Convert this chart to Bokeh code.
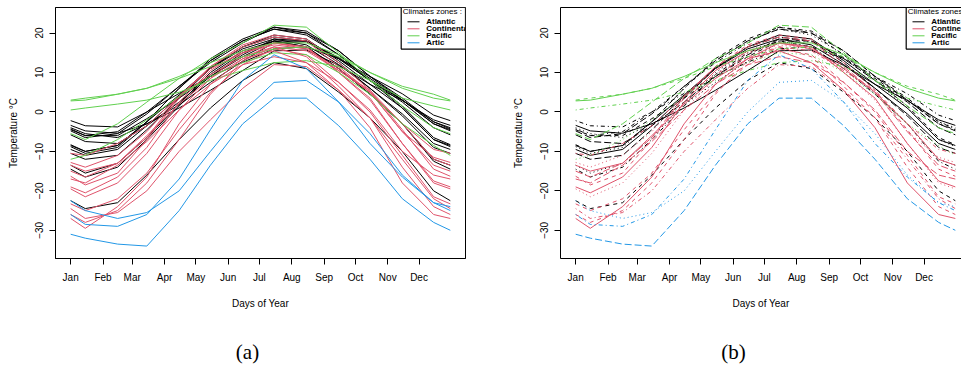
from bokeh.plotting import figure
from bokeh.layouts import row, column
from bokeh.models import FixedTicker, LinearAxis, Range1d
from bokeh.core.properties import value
from bokeh.embed import file_html
from bokeh.resources import INLINE

# ---------------- data ----------------
days = [1, 15, 46, 74, 105, 135, 166, 196, 227, 258, 288, 319, 349, 365]
month_days = [1, 32, 60, 91, 121, 152, 182, 213, 244, 274, 305, 335]
month_labels = ["Jan", "Feb", "Mar", "Apr", "May", "Jun",
                "Jul", "Aug", "Sep", "Oct", "Nov", "Dec"]
temp_ticks = [-30, -20, -10, 0, 10, 20]
captions = ["(a)", "(b)"]

# Atlantic
st_johns      = [-3.4, -4.8, -5.4, -3.0, 1.0, 5.5, 10.5, 15.5, 15.7, 11.8, 7.0, 2.9, -2.0, -3.4]
halifax       = [-4.5, -6.0, -6.0, -1.7, 3.5, 9.0, 14.0, 18.0, 18.0, 13.8, 8.5, 3.0, -3.0, -4.5]
sydney        = [-4.0, -5.5, -6.5, -3.0, 1.8, 7.5, 12.9, 17.6, 17.8, 13.5, 8.0, 3.0, -2.5, -4.0]
yarmouth      = [-2.2, -3.5, -3.8, 0.0, 4.7, 9.0, 12.6, 16.0, 16.5, 13.5, 9.0, 4.6, -0.8, -2.2]
charlottetown = [-5.8, -7.5, -8.0, -3.5, 2.5, 9.0, 14.5, 18.5, 18.0, 13.5, 8.0, 2.5, -4.0, -5.8]
fredericton   = [-8.5, -10.0, -8.5, -2.5, 4.3, 11.2, 16.5, 19.5, 18.5, 13.0, 7.0, 1.0, -7.0, -8.5]
schefferville = [-22.5, -24.5, -23.0, -16.0, -7.0, 1.0, 8.0, 12.5, 11.0, 5.0, -1.5, -10.0, -20.0, -22.5]
arvida        = [-13.5, -15.5, -13.0, -6.5, 2.0, 10.0, 15.5, 18.0, 16.5, 11.0, 4.5, -3.0, -12.0, -13.5]
bagotville    = [-14.5, -16.5, -14.0, -7.0, 1.5, 9.5, 15.0, 18.0, 16.5, 11.0, 4.5, -3.0, -12.5, -14.5]
quebec        = [-10.5, -12.0, -11.0, -4.5, 3.5, 11.0, 16.5, 19.0, 18.0, 12.5, 6.0, -1.0, -9.0, -10.5]
sherbrooke    = [-9.5, -11.0, -9.5, -3.5, 4.0, 11.0, 16.0, 18.5, 17.0, 12.0, 6.0, -0.5, -8.0, -9.5]
montreal      = [-8.3, -10.0, -8.5, -2.5, 6.0, 13.5, 18.5, 21.5, 20.0, 14.5, 8.0, 1.5, -6.5, -8.3]
ottawa        = [-8.8, -10.5, -9.0, -2.5, 6.0, 13.0, 18.0, 21.0, 19.5, 14.5, 8.0, 1.0, -7.0, -8.8]
toronto       = [-4.3, -6.0, -5.0, 0.0, 6.5, 12.5, 17.5, 21.5, 20.5, 15.5, 9.0, 3.5, -2.5, -4.3]
london        = [-4.8, -6.5, -5.5, -0.5, 6.5, 13.0, 18.0, 21.0, 20.0, 15.5, 9.0, 3.0, -3.0, -4.8]
# Continental
thunder_bay   = [-13.5, -15.0, -13.0, -6.0, 2.0, 8.5, 13.5, 17.5, 16.0, 11.0, 5.0, -3.0, -12.0, -13.5]
winnipeg      = [-16.3, -18.5, -15.5, -7.0, 3.5, 11.5, 17.0, 19.5, 18.5, 12.5, 5.5, -4.5, -14.5, -16.3]
the_pas       = [-19.5, -21.5, -18.0, -10.5, 0.5, 8.5, 15.0, 17.5, 16.5, 10.0, 3.0, -8.0, -18.0, -19.5]
churchill     = [-24.5, -27.0, -25.5, -20.0, -10.0, -2.0, 6.0, 12.0, 11.5, 5.5, -1.5, -12.0, -22.0, -24.5]
regina        = [-15.0, -16.5, -13.0, -6.5, 4.0, 11.5, 16.5, 19.0, 18.0, 11.5, 5.0, -5.0, -13.5, -15.0]
pr_albert     = [-19.0, -20.5, -16.5, -9.0, 2.5, 10.5, 15.5, 17.5, 16.5, 10.0, 3.5, -8.0, -17.5, -19.0]
uranium_city  = [-23.3, -25.0, -22.0, -15.5, -4.5, 5.0, 12.0, 16.0, 14.5, 7.5, 0.0, -11.0, -21.5, -23.3]
edmonton      = [-12.8, -14.0, -11.0, -5.0, 4.0, 11.0, 15.0, 17.0, 16.0, 10.5, 5.0, -5.0, -11.5, -12.8]
calgary       = [-10.5, -11.0, -8.0, -3.5, 4.0, 9.5, 14.0, 16.5, 15.5, 10.5, 5.5, -3.0, -9.5, -10.5]
# Pacific
kamloops      = [-5.5, -7.0, -3.0, 2.5, 8.5, 13.5, 17.5, 22.0, 21.5, 15.0, 8.0, 1.5, -4.0, -5.5]
vancouver     = [2.8, 3.0, 4.5, 6.0, 9.0, 12.5, 15.5, 17.5, 17.5, 14.5, 10.0, 6.0, 3.5, 2.8]
victoria      = [3.0, 3.5, 4.5, 6.0, 8.5, 11.5, 14.0, 16.0, 16.5, 14.0, 10.0, 6.5, 4.5, 3.0]
pr_george     = [-12.0, -11.0, -7.0, -2.0, 4.0, 9.0, 12.5, 15.0, 14.5, 10.0, 4.5, -3.0, -8.5, -11.0]
pr_rupert     = [0.5, 1.0, 2.0, 3.0, 5.0, 8.0, 10.5, 12.5, 13.0, 11.5, 8.0, 3.5, 1.5, 0.5]
# Continental (north)
whitehorse    = [-17.0, -18.0, -13.5, -7.5, 0.5, 7.0, 12.0, 14.0, 12.5, 7.5, 0.5, -10.0, -16.0, -17.0]
dawson        = [-27.0, -29.5, -24.0, -16.5, -3.0, 7.0, 13.5, 15.5, 12.5, 5.5, -4.0, -18.0, -26.0, -27.0]
yellowknife   = [-26.0, -28.0, -25.0, -18.0, -7.0, 4.5, 13.0, 16.5, 14.0, 6.5, -1.5, -14.0, -24.0, -26.0]
# Arctic
iqaluit       = [-22.5, -25.0, -27.0, -25.5, -20.0, -10.0, 0.0, 7.5, 8.0, 2.5, -5.5, -16.0, -23.0, -24.0]
inuvik        = [-26.0, -28.5, -29.0, -26.0, -17.0, -4.5, 8.0, 14.5, 11.0, 2.5, -8.0, -16.5, -23.0, -25.0]
resolute      = [-31.0, -32.0, -33.5, -34.0, -25.0, -13.5, -3.0, 3.5, 3.5, -3.5, -12.0, -22.0, -28.0, -30.0]

stations = [st_johns, halifax, sydney, yarmouth, charlottetown, fredericton,
            schefferville, arvida, bagotville, quebec, sherbrooke, montreal,
            ottawa, toronto, london, thunder_bay, winnipeg, the_pas, churchill,
            regina, pr_albert, uranium_city, edmonton, calgary, kamloops,
            vancouver, victoria, pr_george, pr_rupert, whitehorse, dawson,
            yellowknife, iqaluit, inuvik, resolute]
station_zone = (["Atlantic"] * 15 + ["Continental"] * 9 + ["Pacific"] * 5
                + ["Continental"] * 3 + ["Artic"] * 3)

zone_names = ["Atlantic", "Continental", "Pacific", "Artic"]
zone_colors = {"Atlantic": "#000000", "Continental": "#DF536B",
               "Pacific": "#61D04F", "Artic": "#2297E6"}
lty_cycle = ["solid", "4 4", "1 3", "1 3 4 3", "7 3"]

# ---------------- styling helpers ----------------
FONT = "Liberation Sans"
X0, X1 = -13.56, 379.56
Y0, Y1 = -37.15, 26.48
FRAME_W, FRAME_H = 410, 251
PLOT_H = 330          # chart rows; a caption strip fills the rest
CAP_H = 367 - PLOT_H


def style_axes(p):
    p.xgrid.visible = False
    p.ygrid.visible = False
    p.background_fill_color = "white"
    p.border_fill_color = "white"
    xa = p.xaxis[0]
    xa.ticker = FixedTicker(ticks=month_days)
    xa.major_label_overrides = {d: m for d, m in zip(month_days, month_labels)}
    ya = p.yaxis[0]
    ya.ticker = FixedTicker(ticks=temp_ticks)
    ya.major_label_orientation = "vertical"
    for ax in (xa, ya):
        ax.axis_line_color = "black"
        ax.major_tick_line_color = "black"
        ax.major_tick_in = 0
        ax.major_tick_out = 6
        ax.minor_tick_in = 0
        ax.minor_tick_out = 0
        ax.major_label_text_font = FONT
        ax.major_label_text_font_size = "10px"
        ax.major_label_text_color = "black"
        ax.axis_label_text_font = FONT
        ax.axis_label_text_font_size = "10px"
        ax.axis_label_text_font_style = "normal"
        ax.axis_label_text_color = "black"
    xa.axis_label = "Days of Year"
    xa.major_label_standoff = 7
    xa.axis_label_standoff = 12
    ya.axis_label = "Temperature \u00b0C"
    ya.major_label_standoff = 6
    ya.axis_label_standoff = 14


def draw_legend(p):
    dx = (X1 - X0) / FRAME_W   # data units per pixel
    dy = (Y1 - Y0) / FRAME_H
    left = X1 - 64.3 * dx
    p.quad(left=left, right=X1, top=Y1, bottom=Y1 - 41.6 * dy,
           fill_color="white", line_color="black", line_width=1.2)
    p.text(x=[X1 - 62.7 * dx], y=[Y1 - 4.3 * dy], text=["Climates zones :"],
           text_font=value(FONT), text_font_size="8px", text_color="black",
           text_align="left", text_baseline="middle")
    for i, z in enumerate(zone_names):
        yy = Y1 - (14.3 + 7.0 * i) * dy
        p.segment(x0=[X1 - 58 * dx], x1=[X1 - 46 * dx], y0=[yy], y1=[yy],
                  line_color=zone_colors[z], line_width=1)
        p.text(x=[X1 - 39.3 * dx], y=[yy], text=[z],
               text_font=value(FONT), text_font_size="8px",
               text_font_style="bold", text_color="black",
               text_align="left", text_baseline="middle")


# ---------------- panel (a) ----------------
pa = figure(width=480, height=PLOT_H, x_range=Range1d(X0, X1),
            y_range=Range1d(Y0, Y1), output_backend="svg",
            toolbar_location=None, min_border_left=55, min_border_right=15,
            min_border_top=7, min_border_bottom=PLOT_H - 7 - FRAME_H)
style_axes(pa)
pa.outline_line_color = "black"
pa.outline_line_width = 1
pa.outline_line_alpha = 1
for series, zone in zip(stations, station_zone):
    pa.line(days, series, line_color=zone_colors[zone], line_width=1)
draw_legend(pa)

# ---------------- panel (b) ----------------
XB1 = X0 + (X1 - X0) * 401 / FRAME_W
pb = figure(width=481, height=PLOT_H, x_range=Range1d(X0, XB1),
            y_range=Range1d(Y0, Y1), output_backend="svg",
            toolbar_location=None, min_border_left=80, min_border_right=0,
            min_border_top=7, min_border_bottom=PLOT_H - 7 - FRAME_H)
style_axes(pb)
pb.outline_line_color = None
top_axis = LinearAxis(ticker=FixedTicker(ticks=[]), axis_line_color="black",
                      major_tick_in=0, major_tick_out=0, minor_tick_in=0,
                      minor_tick_out=0, major_label_standoff=0,
                      major_label_text_font_size="0px")
pb.add_layout(top_axis, "above")
for i, (series, zone) in enumerate(zip(stations, station_zone)):
    pb.line(days, series, line_color=zone_colors[zone], line_width=1,
            line_dash=lty_cycle[i % 5])
draw_legend(pb)

# ---------------- caption strip ----------------
cap = figure(width=961, height=CAP_H, x_range=Range1d(0, 961),
             y_range=Range1d(0, CAP_H), output_backend="svg",
             toolbar_location=None, min_border=0)
cap.axis.visible = False
cap.grid.visible = False
cap.outline_line_color = None
cap.background_fill_color = "white"
cap.border_fill_color = "white"
cap.text(x=[247, 733], y=[CAP_H - 21, CAP_H - 21], text=captions,
         text_font=value("Liberation Serif"), text_font_size="21px",
         text_color="black", text_align="center", text_baseline="middle")

layout = column(row(pa, pb, spacing=0), cap, spacing=0)
open("out.html", "w").write(file_html(layout, INLINE))
